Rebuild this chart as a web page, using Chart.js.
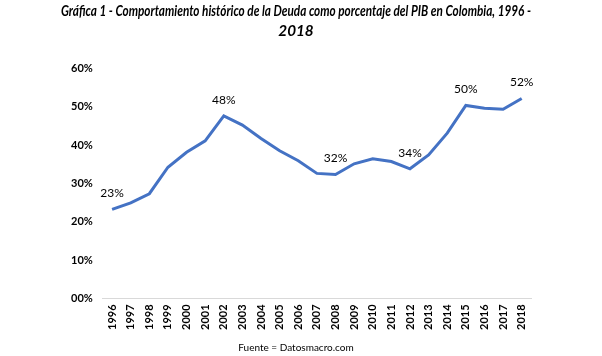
<!DOCTYPE html>
<html><head><meta charset="utf-8">
<script src="https://cdn.jsdelivr.net/npm/chart.js@4/dist/chart.umd.min.js"></script>
<style>html,body{margin:0;padding:0;background:#fff}#wrap{width:602px;height:356px}</style>
</head><body><div id="wrap"><canvas id="c"></canvas></div>
<script>
const years = ["1996","1997","1998","1999","2000","2001","2002","2003","2004","2005","2006","2007","2008","2009","2010","2011","2012","2013","2014","2015","2016","2017","2018"];
const deudaPIB = [23.2,24.9,27.3,34.2,38.1,41.1,47.6,45.2,41.7,38.5,35.9,32.6,32.3,35.1,36.4,35.7,33.8,37.4,43.1,50.3,49.6,49.3,52.1];
const labeledIdx = [0,6,12,16,19,22];
const yTicks = [0,10,20,30,40,50,60];

const labelPlugin = {
  id:'ptLabels',
  afterDatasetsDraw(chart){
    const ctx = chart.ctx, meta = chart.getDatasetMeta(0);
    ctx.save();
    ctx.font = '12px Lato, "Open Sans", sans-serif';
    ctx.fillStyle = '#000';
    ctx.textAlign = 'center'; ctx.textBaseline = 'middle';
    labeledIdx.forEach(i=>{
      const p = meta.data[i];
      ctx.fillText(Math.round(deudaPIB[i])+'%', p.x, p.y-16);
    });
    ctx.restore();
  }
};

new Chart(document.getElementById('c'), {
  type:'line',
  data:{labels:years, datasets:[{data:deudaPIB, borderColor:'#4472C4', borderWidth:3, pointRadius:0, tension:0, fill:false}]},
  options:{
    responsive:true, maintainAspectRatio:false, animation:false,
    layout:{padding:{left:61,right:71,top:2,bottom:0}},
    plugins:{
      legend:{display:false}, tooltip:{enabled:false},
      title:{display:true, text:['Gráfica 1 - Comportamiento histórico de la Deuda como porcentaje del PIB en Colombia, 1996 -','2018'],
        font:{family:'Lato, "Open Sans", sans-serif', size:15.3, weight:'bold', style:'italic', lineHeight:1.25}, color:'#000', padding:{top:0,bottom:28}, fullSize:true},
      subtitle:{display:true, position:'bottom', text:'Fuente = Datosmacro.com', font:{family:'Lato, "Open Sans", sans-serif', size:10}, color:'#000', padding:{top:6,bottom:2}}
    },
    scales:{
      x:{offset:true, grid:{display:false, drawTicks:false}, border:{display:true,color:'#d9d9d9',width:1},
        ticks:{maxRotation:90,minRotation:90, autoSkip:false, padding:6, color:'#000', font:{family:'Lato, "Open Sans", sans-serif', size:11, weight:'bold'}}},
      y:{min:0,max:60, grid:{display:false, drawTicks:false}, border:{display:false},
        afterBuildTicks(s){s.ticks = yTicks.map(v=>({value:v}));},
        ticks:{padding:10, color:'#000', font:{family:'Lato, "Open Sans", sans-serif', size:11, weight:'bold'},
          callback:v=>String(v).padStart(2,'0')+'%'}}
    }
  },
  plugins:[labelPlugin]
});
</script></body></html>
